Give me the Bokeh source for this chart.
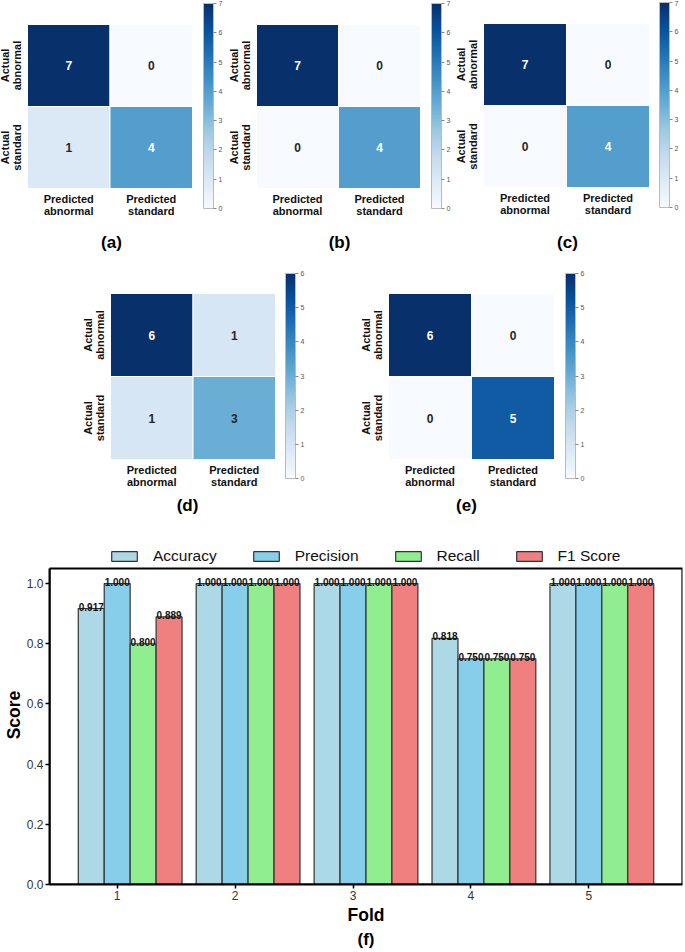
import math
from bokeh.plotting import figure
from bokeh.models import (ColumnDataSource, Range1d, LinearColorMapper, ColorBar, FixedTicker,
                          Legend, LegendItem, Title, NumeralTickFormatter, Spacer, BoxAnnotation)
from bokeh.layouts import row, column
from bokeh.transform import dodge, transform
from bokeh.palettes import Blues256
from bokeh.core.properties import value
from bokeh.embed import file_html
from bokeh.resources import INLINE

# ---------------- data ----------------
pred_labels = ["Predicted\nabnormal", "Predicted\nstandard"]
actual_labels = ["Actual\nabnormal", "Actual\nstandard"]
cm_a = [[7, 0], [1, 4]]
cm_b = [[7, 0], [0, 4]]
cm_c = [[7, 0], [0, 4]]
cm_d = [[6, 1], [1, 3]]
cm_e = [[6, 0], [0, 5]]
cm_vmax = [7, 7, 7, 6, 6]
panel_names = ["(a)", "(b)", "(c)", "(d)", "(e)"]

folds = [1, 2, 3, 4, 5]
accuracy = [0.917, 1.000, 1.000, 0.818, 1.000]
precision = [1.000, 1.000, 1.000, 0.750, 1.000]
recall = [0.800, 1.000, 1.000, 0.750, 1.000]
f1_score = [0.889, 1.000, 1.000, 0.750, 1.000]
metric_names = ["Accuracy", "Precision", "Recall", "F1 Score"]
y_ticks = [0.0, 0.2, 0.4, 0.6, 0.8, 1.0]

FONT = "Liberation Sans"
palette = list(reversed(Blues256))


def heatmap(cm, vmax, name, canvas, cells, cbar, title_xy):
    X0, Y0, X1, Y1 = canvas
    cx0, cy0, cx1, cy1 = cells
    ux = 2.0 / (cx1 - cx0)
    uy = 2.0 / (cy1 - cy0)
    xs = -(cx0 - X0) * ux
    xe = 2 + (X1 - cx1) * ux
    ye = 2 + (cy0 - Y0) * uy
    ys = -(Y1 - cy1) * uy
    p = figure(width=X1 - X0, height=Y1 - Y0, x_range=Range1d(xs, xe), y_range=Range1d(ys, ye),
               x_axis_location=None, y_axis_location=None, toolbar_location=None,
               output_backend="svg", min_border=0, outline_line_color=None)
    p.grid.visible = False
    mapper = LinearColorMapper(palette=palette, low=0, high=vmax)
    cxs, cys, vals, tcol = [], [], [], []
    for i in range(2):
        for j in range(2):
            v = cm[i][j]
            cxs.append(j + 0.5)
            cys.append(1.5 - i)
            vals.append(v)
            tcol.append("white" if v / vmax > 0.55 else "#262626")
    src = ColumnDataSource(dict(x=cxs, y=cys, v=vals, t=[str(v) for v in vals], c=tcol))
    p.rect("x", "y", width=1, height=1, source=src, fill_color=transform("v", mapper),
           line_color="white", line_width=1)
    p.text("x", "y", text="t", source=src, text_color="c", text_align="center",
           text_baseline="middle", text_font=value(FONT), text_font_style="bold",
           text_font_size="12px")
    p.text(x=[0.5, 1.5], y=[0, 0], text=pred_labels, text_align="center", text_baseline="top",
           y_offset=4, text_line_height=1.0, text_font=value(FONT), text_font_style="bold",
           text_font_size="11px", text_color="#111111")
    p.text(x=[-5 * ux, -5 * ux], y=[1.5, 0.5], text=actual_labels, angle=math.pi / 2,
           text_align="center", text_baseline="bottom", text_line_height=1.0,
           text_font=value(FONT), text_font_style="bold", text_font_size="11px",
           text_color="#111111")
    tx, ty = title_xy
    p.text(x=[xs + (tx - X0) * ux], y=[ys + (Y1 - ty) * uy], text=[name], text_align="center",
           text_baseline="middle", text_font=value(FONT), text_font_style="bold",
           text_font_size="17px", text_color="black")
    bx0, by0, bx1, by1 = cbar
    cb = ColorBar(color_mapper=mapper, ticker=FixedTicker(ticks=list(range(vmax + 1))),
                  location=(bx0 - X0, Y1 - by1), width=bx1 - bx0, height=by1 - by0,
                  padding=0, margin=0, major_label_text_font_size="7px",
                  major_label_text_color="#555555", major_label_text_font=FONT,
                  major_tick_in=0, major_tick_out=3, major_tick_line_color="#888888",
                  minor_tick_line_color=None, bar_line_color="#bbbbbb", label_standoff=2,
                  background_fill_alpha=0, border_line_color=None)
    p.add_layout(cb)
    return p


# geometry (page pixels)
fa = heatmap(cm_a, cm_vmax[0], panel_names[0], (0, 0, 226, 255), (27, 24, 192, 188),
             (203, 3, 213, 208), (111, 242))
fb = heatmap(cm_b, cm_vmax[1], panel_names[1], (226, 0, 452, 255), (256, 24, 420, 188),
             (431, 3, 441, 208), (339, 242))
fc = heatmap(cm_c, cm_vmax[2], panel_names[2], (452, 0, 685, 255), (483, 23, 649, 187),
             (659, 2, 669, 207), (567, 242))
fd = heatmap(cm_d, cm_vmax[3], panel_names[3], (75, 255, 330, 520), (110, 293, 275, 459),
             (285, 273, 295, 478), (187, 505))
fe = heatmap(cm_e, cm_vmax[4], panel_names[4], (330, 255, 600, 520), (388, 293, 554, 459),
             (565, 273, 575, 478), (466, 505))

# ---------------- bar chart ----------------
src = ColumnDataSource(dict(
    fold=folds, acc=accuracy, pre=precision, rec=recall, f1=f1_score,
    acc_t=[f"{v:.3f}" for v in accuracy], pre_t=[f"{v:.3f}" for v in precision],
    rec_t=[f"{v:.3f}" for v in recall], f1_t=[f"{v:.3f}" for v in f1_score]))

Y_TOP = 1.05            # top of the plotting box
Y_VIEW = 1.1264         # extra room above the box for the legend
pb = figure(width=685, height=430, x_range=Range1d(0.426, 5.794), y_range=Range1d(0, Y_VIEW),
            toolbar_location=None, output_backend="svg", min_border_left=47,
            min_border_right=3, min_border_top=25, min_border_bottom=66,
            x_axis_label="Fold", y_axis_label="Score", outline_line_color=None)
pb.grid.visible = False

keys = ["acc", "pre", "rec", "f1"]
offsets = [-0.22, 0.0, 0.22, 0.44]
colors = ["#add8e6", "#87ceeb", "#90ee90", "#f08080"]
items = []
for name, key, off, col in zip(metric_names, keys, offsets, colors):
    r = pb.vbar(x=dodge("fold", off), top=key, width=0.22, source=src, fill_color=col,
                line_color="#333333", line_width=1.2)
    items.append(LegendItem(label=name, renderers=[r]))
    pb.text(x=dodge("fold", off), y=key, text=key + "_t", source=src, text_align="center",
            text_baseline="alphabetic", y_offset=-2, text_font=value(FONT),
            text_font_style="bold", text_font_size="10px", text_color="#111111")

pb.add_layout(BoxAnnotation(bottom=0, top=Y_TOP, fill_color=None, fill_alpha=0,
                            line_color="black", line_alpha=1.0, line_width=2.2))

legend = Legend(items=items, orientation="horizontal", location=(59, 319), glyph_width=32,
                glyph_height=12, label_standoff=13, spacing=33, padding=0, margin=0,
                border_line_color=None, background_fill_alpha=0, label_text_font=FONT,
                label_text_font_size="15.5px", label_text_color="#111111")
pb.add_layout(legend)

for ax in (pb.xaxis[0], pb.yaxis[0]):
    ax.axis_line_color = "black"
    ax.axis_line_width = 2
    ax.major_tick_line_color = "black"
    ax.major_tick_line_width = 1.5
    ax.major_tick_in = 0
    ax.major_tick_out = 4
    ax.minor_tick_line_color = None
    ax.major_label_text_font = FONT
    ax.major_label_text_font_size = "12px"
    ax.major_label_text_color = "#333333"
    ax.axis_label_text_font = FONT
    ax.axis_label_text_font_size = "17.5px"
    ax.axis_label_text_font_style = "bold"
    ax.axis_label_text_color = "black"
pb.yaxis.bounds = (0, Y_TOP)
pb.xaxis.ticker = FixedTicker(ticks=folds)
pb.yaxis.ticker = FixedTicker(ticks=y_ticks)
pb.yaxis.formatter = NumeralTickFormatter(format="0.0")
pb.xaxis.major_label_standoff = 2
pb.xaxis.axis_label_standoff = 2
pb.yaxis.major_label_standoff = 2
pb.yaxis.axis_label_standoff = 0
pb.add_layout(Title(text="(f)", align="center", text_font=FONT, text_font_size="17px",
                    text_font_style="bold", text_color="black", standoff=0, offset=0),
              "below")

layout = column(
    row(fa, fb, fc),
    row(Spacer(width=75, height=265), fd, fe),
    pb,
)

open("out.html", "w").write(file_html(layout, INLINE))
